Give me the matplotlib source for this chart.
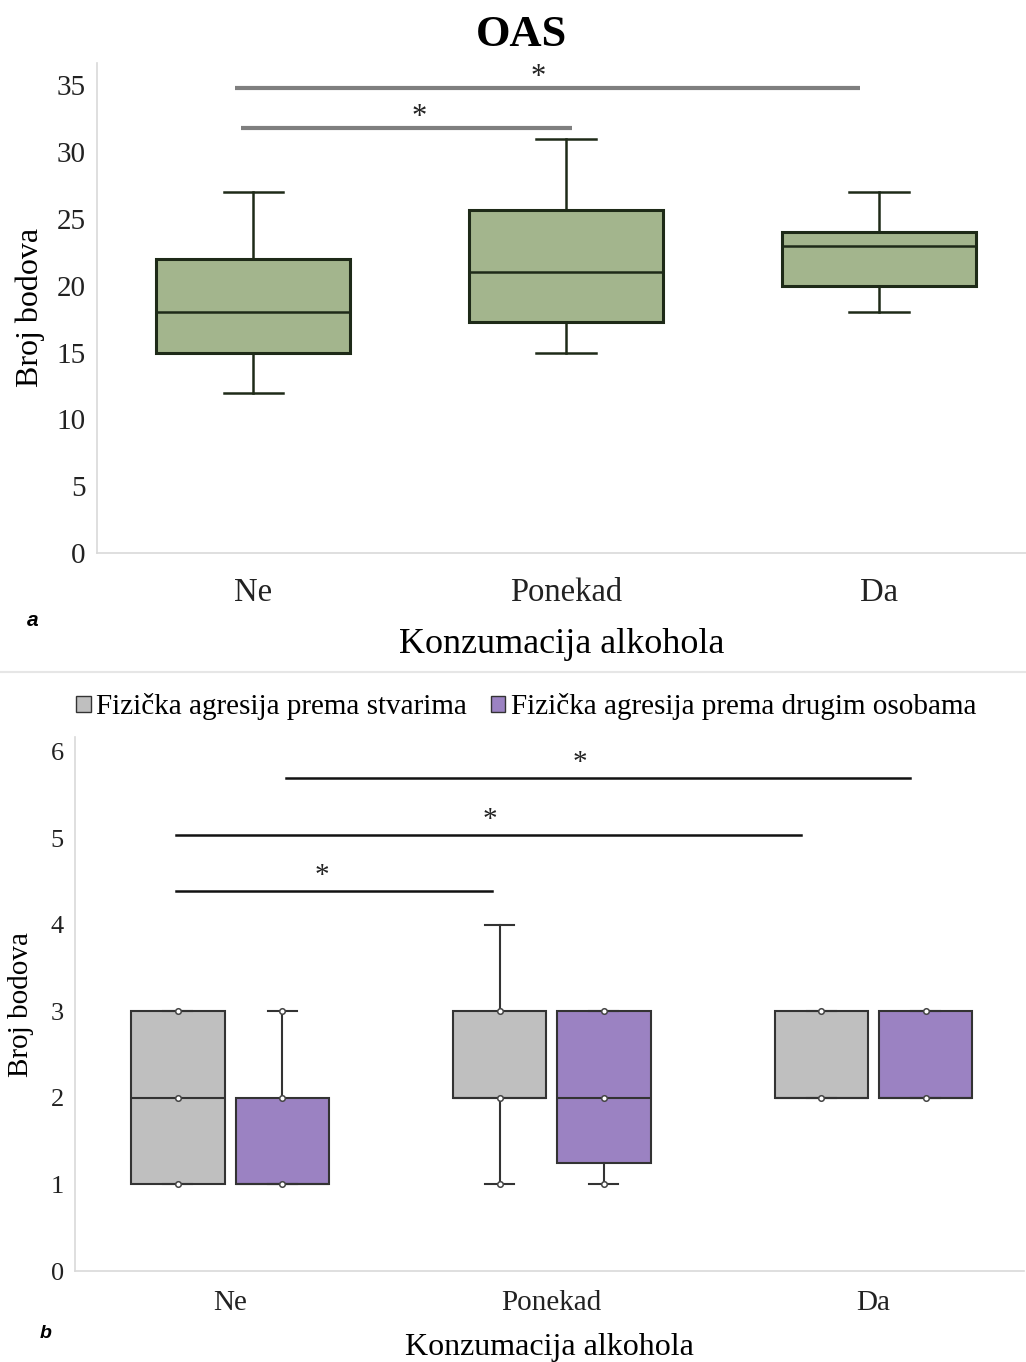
import matplotlib
matplotlib.use('Agg')
import matplotlib.pyplot as plt
from matplotlib.patches import Patch
from matplotlib.lines import Line2D

# --- donnees panneau a (OAS) ---
categories = ['Ne', 'Ponekad', 'Da']
oas_whislo = [12, 15, 18]
oas_q1 = [15, 17.3, 20]
oas_med = [18, 21, 23]
oas_q3 = [22, 25.7, 24]
oas_whishi = [27, 31, 27]
oas_sig = [(-0.06, 1.94, 34.8, 0.91), (-0.04, 1.02, 31.8, 0.53)]   # (x debut, x fin, y, x etoile)

# --- donnees panneau b ---
series = ['Fizička agresija prema stvarima', 'Fizička agresija prema drugim osobama']
stv_whislo = [1, 1, 2]
stv_q1 = [1, 2, 2]
stv_med = [2, 2, 2]
stv_q3 = [3, 3, 3]
stv_whishi = [3, 4, 3]
stv_points = [[1, 2, 3], [1, 2, 3], [2, 3]]
oso_whislo = [1, 1, 2]
oso_q1 = [1, 1.25, 2]
oso_med = [1, 2, 2]
oso_q3 = [2, 3, 3]
oso_whishi = [3, 3, 3]
oso_points = [[1, 2, 3], [1, 2, 3], [2, 3]]
b_sig = [(0.174, 2.114, 5.70, 1.088), (-0.168, 1.775, 5.04, 0.808), (-0.168, 0.814, 4.39, 0.286)]

serif = 'Liberation Serif'
green = '#a3b58d'
gray = '#bfbfbf'
purple = '#9b82c2'
edge = '#333333'


def stats(lo, q1, med, q3, hi):
    return [dict(whislo=a, q1=b, med=c, q3=d, whishi=e)
            for a, b, c, d, e in zip(lo, q1, med, q3, hi)]


def style_axes(ax, fs, pad):
    for s in ['top', 'right']:
        ax.spines[s].set_visible(False)
    for s in ['left', 'bottom']:
        ax.spines[s].set_color('#d9d9d9')
        ax.spines[s].set_linewidth(1.2)
    ax.tick_params(length=0, labelsize=fs, colors='#222222', pad=8)
    ax.tick_params(axis='x', pad=pad)
    for t in ax.get_xticklabels() + ax.get_yticklabels():
        t.set_fontfamily(serif)


fig = plt.figure(figsize=(10.26, 13.62), dpi=100)

# ---------------- panneau a ----------------
ax1 = fig.add_axes([0.0945, 0.594, 0.9055, 0.36])
ax1.bxp(stats(oas_whislo, oas_q1, oas_med, oas_q3, oas_whishi), positions=[0, 1, 2],
        widths=0.62, showfliers=False, patch_artist=True,
        boxprops=dict(facecolor=green, edgecolor='#1e2a18', linewidth=2.2),
        medianprops=dict(color='#1e2a18', linewidth=1.8),
        whiskerprops=dict(color='#1e2a18', linewidth=1.8),
        capprops=dict(color='#1e2a18', linewidth=1.8), capwidths=0.19)
for x0, x1, y, xs in oas_sig:
    ax1.plot([x0, x1], [y, y], color='#7f7f7f', linewidth=3, solid_capstyle='butt')
    ax1.text(xs, y - 0.3, '*', ha='center', va='bottom', fontsize=22,
             fontfamily=serif, color='#222222')
ax1.set_xlim(-0.5, 2.47)
ax1.set_ylim(0, 36.7)
ax1.set_yticks(range(0, 36, 5))
ax1.set_xticks([0, 1, 2])
ax1.set_xticklabels(categories)
style_axes(ax1, 23.5, 18)
for t in ax1.get_yticklabels():
    t.set_fontsize(21)
ax1.set_ylabel('Broj bodova', fontfamily=serif, fontsize=23, labelpad=8)
ax1.set_xlabel('Konzumacija alkohola', fontfamily=serif, fontsize=26, labelpad=14)
fig.text(521 / 1026, 1 - 35 / 1362, 'OAS', fontfamily=serif, fontsize=32,
         fontweight='bold', ha='center', va='center')
fig.text(0.032, 1 - 620 / 1362, 'a', fontfamily='Liberation Sans', fontsize=15,
         fontweight='bold', fontstyle='italic', ha='center', va='center')

# separateur
fig.add_artist(Line2D([0, 1], [1 - 672 / 1362] * 2, color='#e6e6e6', linewidth=1.5))

# ---------------- panneau b ----------------
ax2 = fig.add_axes([0.0731, 0.0668, 0.925, 0.392])
pos = [0, 1, 2]
off = 0.162
for vals, pts, col, d in [
        (stats(stv_whislo, stv_q1, stv_med, stv_q3, stv_whishi), stv_points, gray, -off),
        (stats(oso_whislo, oso_q1, oso_med, oso_q3, oso_whishi), oso_points, purple, off)]:
    p = [x + d for x in pos]
    ax2.bxp(vals, positions=p, widths=0.29, showfliers=False, patch_artist=True,
            boxprops=dict(facecolor=col, edgecolor=edge, linewidth=1.5),
            medianprops=dict(color=edge, linewidth=1.5),
            whiskerprops=dict(color=edge, linewidth=1.5),
            capprops=dict(color=edge, linewidth=1.5), capwidths=0.09)
    for x, pp in zip(p, pts):
        ax2.plot([x] * len(pp), pp, 'o', markersize=4, markerfacecolor='white',
                 markeredgecolor='#444444', markeredgewidth=1.1, zorder=5)
for x0, x1, y, xs in b_sig:
    ax2.plot([x0, x1], [y, y], color='#111111', linewidth=1.8)
    ax2.text(xs, y + 0.02, '*', ha='center', va='bottom', fontsize=21,
             fontfamily=serif, color='#222222')
ax2.set_xlim(-0.482, 2.468)
ax2.set_ylim(0, 6.17)
ax2.set_yticks(range(0, 7))
ax2.set_xticks([0, 1, 2])
ax2.set_xticklabels(categories)
style_axes(ax2, 21, 14)
for t in ax2.get_yticklabels():
    t.set_fontsize(19)
ax2.set_ylabel('Broj bodova', fontfamily=serif, fontsize=21, labelpad=12)
ax2.set_xlabel('Konzumacija alkohola', fontfamily=serif, fontsize=23, labelpad=12)
fig.text(0.044, 1 - 1333 / 1362, 'b', fontfamily='Liberation Sans', fontsize=14,
         fontweight='bold', fontstyle='italic', ha='center', va='center')

handles = [Patch(facecolor=gray, edgecolor=edge), Patch(facecolor=purple, edgecolor=edge)]
fig.legend(handles, series, loc='center', bbox_to_anchor=(0.513, 1 - 707 / 1362),
           ncol=2, frameon=False, prop=dict(family=serif, size=21),
           handlelength=0.5, handleheight=0.5, handletextpad=0.2, columnspacing=0.8)

fig.savefig('out.png', dpi=100)
